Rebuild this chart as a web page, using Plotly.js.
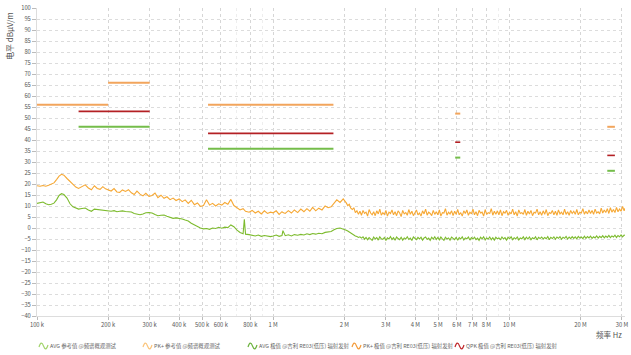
<!DOCTYPE html>
<html><head><meta charset="utf-8">
<script src="https://cdn.plot.ly/plotly-3.0.1.min.js"></script>
<style>html,body{margin:0;padding:0;background:#fff}#chart{width:631px;height:355px}</style>
</head><body><div id="chart"></div>
<script>
// Frequencies in kHz
var freqKHz = [100,103,106,109,112,115,118,121,124,127,130,134,138,142,146,150,155,160,165,170,175,180,185,190,195,200,
206,212,218,224,230,237,244,251,258,265,273,281,289,298,307,316,325,335,345,355,366,377,388,400,412,424,437,450,464,478,492,
507,522,538,554,571,588,606,624,643,662,682,703,724,746,755,764,791,815,840,865,891,918,946,975,
1000,1030,1060,1090,1100,1125,1160,1195,1230,1270,1310,1350,1390,1430,1470,1515,1560,1610,1660,1710,1760,1810,1860,1920,1980,
2040,2070,2100,2132,2164,2196,2229,2263,2297,2331,
2366,2402,2438,2474,2511,2549,2587,2626,2665,2705,
2746,2787,2829,2871,2914,2958,3002,3047,3093,3139,
3186,3234,3283,3332,3382,3433,3484,3537,3590,3644,
3698,3754,3810,3867,3925,3984,4044,4104,4166,4228,
4292,4356,4422,4488,4555,4624,4693,4764,4835,4908,
4981,5056,5132,5209,5287,5366,5447,5529,5611,5696,
5781,5868,5956,6045,6136,6228,6321,6416,6512,6610,
6709,6810,6912,7016,7121,7228,7336,7446,7558,7671,
7786,7903,8022,8142,8264,8388,8514,8642,8771,8903,
9037,9172,9310,9450,9591,9735,9881,10029,10180,10332,
10487,10645,10804,10966,11131,11298,11467,11639,11814,11991,
12171,12354,12539,12727,12918,13112,13308,13508,13711,13916,
14125,14337,14552,14770,14992,15217,15445,15677,15912,16150,
16393,16638,16888,17141,17398,17659,17924,18193,18466,18743,
19024,19309,19599,19893,20191,20494,20802,21114,21430,21752,
22078,22409,22745,23086,23433,23784,24141,24503,24871,25244,
25622,26007,26397,26793,27195,27603,28017,28437,28863,29296,
29736,30182,30635,30900];

var pkMeasured = [19.2,19.0,19.3,19.0,19.4,19.8,20.5,22.0,23.6,24.4,24.0,22.5,21.0,19.8,18.6,18.0,18.9,19.6,18.2,17.4,19.2,18.0,17.6,18.8,17.8,17.2,
16.8,17.9,16.4,16.2,17.3,16.6,17.4,16.0,15.2,16.8,15.4,14.6,15.8,14.4,14.8,15.9,13.8,14.9,13.5,14.2,12.9,13.6,12.5,13.2,12.0,12.8,11.2,12.6,10.6,11.4,9.8,
10.2,12.8,10.4,11.2,10.0,11.0,10.4,11.6,10.8,13.0,10.2,9.0,8.2,8.8,8.0,7.6,7.2,8.0,6.8,7.6,6.4,7.8,6.6,7.2,
6.9,7.8,6.2,7.4,7.0,6.6,7.9,6.8,8.2,7.0,8.6,7.4,8.8,7.6,9.4,7.8,9.0,8.2,10.0,9.2,9.6,11.0,12.8,11.6,13.2,
11.4,10.2,10.8,9.0,8.4,9.2,7.0,7.8,6.2,7.6,
5.8,8.0,6.6,7.2,5.4,8.4,6.8,6.0,7.4,5.6,
7.8,6.4,8.6,5.8,7.0,6.2,8.0,5.4,7.2,6.6,
8.2,6.0,7.4,5.6,7.8,6.8,5.2,8.0,6.4,7.0,
5.8,8.4,6.2,7.6,5.6,7.0,8.2,6.0,6.8,5.4,
7.8,6.4,8.6,5.8,7.2,6.6,5.6,8.0,6.2,7.4,
6.0,8.2,5.4,7.0,6.8,8.8,5.8,7.2,6.4,7.8,
5.6,7.6,6.2,8.4,6.0,7.0,5.4,7.8,6.6,8.2,
5.8,7.2,6.4,8.6,6.0,7.4,5.6,8.0,6.8,7.2,
5.4,8.4,6.2,7.0,6.6,8.8,5.8,7.6,6.2,7.8,
6.0,8.2,5.6,7.4,6.8,8.0,5.8,7.2,6.4,8.6,
6.0,7.4,5.4,8.2,6.6,7.0,6.2,8.4,5.8,7.6,
6.4,8.0,5.6,7.2,6.8,8.6,6.0,7.4,5.8,7.8,
6.2,8.4,5.6,7.0,6.6,8.0,6.0,7.6,5.8,8.2,
6.4,7.2,6.0,8.6,6.2,7.4,5.8,8.0,6.6,7.6,
6.2,8.4,6.0,7.2,6.8,8.8,6.2,7.6,6.4,8.2,
6.6,8.0,6.2,8.6,6.8,7.4,6.4,9.0,6.8,8.2,
7.0,8.8,6.6,9.2,7.2,8.4,7.0,9.4,7.4,8.6,
7.6,9.8,7.8,9.0];

var avgMeasured = [11.2,11.6,11.8,11.0,10.6,10.8,11.3,12.8,14.8,15.6,15.2,13.6,11.0,9.6,9.0,8.6,8.9,9.1,8.2,7.6,8.6,8.4,8.2,8.3,7.9,7.8,
7.6,7.9,7.4,7.6,7.8,7.5,7.4,7.3,6.6,6.2,6.0,6.4,6.9,7.0,6.8,6.1,5.6,5.8,5.9,5.3,4.8,4.4,4.6,4.4,4.1,3.6,3.2,2.2,1.4,1.0,0.0,
-0.4,-0.2,-0.6,0.0,-0.2,0.3,-0.1,0.4,0.2,1.4,0.6,-1.0,-2.0,-2.6,4.0,-2.8,-3.0,-3.4,-3.6,-3.2,-3.8,-3.4,-3.6,-3.9,
-3.6,-3.2,-3.8,-3.4,-1.2,-3.5,-3.1,-3.6,-3.0,-3.3,-2.9,-3.2,-2.6,-3.0,-2.5,-2.8,-2.4,-2.6,-2.0,-1.8,-1.6,-0.8,-0.2,0.0,-0.4,
-1.0,-1.4,-1.9,-2.4,-2.9,-3.2,-3.6,-3.9,-4.3,-4.0,
-4.6,-4.0,-5.1,-4.3,-5.4,-4.4,-4.9,-5.6,-4.1,-5.0,
-4.4,-5.5,-4.0,-4.9,-5.2,-4.3,-5.7,-4.5,-5.0,-3.9,
-5.2,-4.4,-5.6,-4.1,-4.8,-5.3,-4.2,-5.5,-4.5,-5.0,
-4.0,-5.2,-4.6,-5.7,-4.1,-4.8,-5.3,-4.3,-5.0,-4.2,
-5.5,-4.5,-4.1,-5.2,-4.6,-5.6,-4.2,-5.0,-4.0,-5.2,
-4.3,-5.4,-4.1,-4.9,-5.6,-4.2,-5.0,-4.5,-5.5,-4.1,
-4.8,-5.3,-4.2,-5.6,-4.4,-5.0,-4.0,-5.4,-4.5,-4.9,
-4.1,-5.5,-4.4,-5.0,-4.2,-5.3,-4.6,-5.6,-4.2,-4.9,
-4.0,-5.4,-4.5,-5.0,-4.1,-5.3,-4.4,-5.5,-4.2,-4.9,
-4.5,-5.3,-4.1,-5.0,-4.4,-5.5,-4.2,-4.9,-4.0,-5.3,
-4.4,-5.0,-4.1,-5.4,-4.5,-4.9,-4.0,-5.3,-4.2,-5.0,
-4.1,-5.3,-4.4,-4.9,-4.0,-5.4,-4.2,-4.8,-4.1,-5.0,
-4.3,-4.9,-3.9,-5.3,-4.2,-4.8,-4.0,-5.1,-4.1,-4.7,
-3.9,-5.1,-4.2,-4.7,-3.8,-5.0,-4.1,-4.8,-3.9,-4.7,
-4.0,-4.9,-3.8,-4.6,-4.1,-4.8,-3.7,-4.7,-3.9,-4.5,
-3.7,-4.7,-4.0,-4.5,-3.6,-4.6,-3.8,-4.4,-3.5,-4.5,
-3.7,-4.3,-3.4,-4.4,-3.6,-4.1,-3.3,-4.3,-3.4,-4.0,
-3.1,-4.0,-3.2,-3.3];

// Limit lines (kHz, dBuV/m), null = gap
var pkLimitX  = [100,200,null,200,300,null,530,1800,null,5900,6200,null,26000,28000];
var pkLimitY  = [56,56,null,66,66,null,56,56,null,52,52,null,46,46];
var qpkLimitX = [150,300,null,530,1800,null,5900,6200,null,26000,28000];
var qpkLimitY = [53,53,null,43,43,null,39,39,null,33,33];
var avgLimitX = [150,300,null,530,1800,null,5900,6200,null,26000,28000];
var avgLimitY = [46,46,null,36,36,null,32,32,null,26,26];

var seriesNames = ['AVG 参考值 @频谱概观测试','PK+ 参考值 @频谱概观测试','AVG 极值 @吉利 RE03(低压) 辐射发射','PK+ 极值 @吉利 RE03(低压) 辐射发射','QPK 极值 @吉利 RE03(低压) 辐射发射'];

var xTickVals = [100,200,300,400,500,600,800,1000,2000,3000,4000,5000,6000,7000,8000,10000,20000,30000];
var xTickText = ['100 k','200 k','300 k','400 k','500 k','600 k','800 k','1 M','2 M','3 M','4 M','5 M','6 M','7 M','8 M','10 M','20 M','30 M'];
var xMinorVals = [700,900,9000];
var yTickVals = [-40,-35,-30,-25,-20,-15,-10,-5,0,5,10,15,20,25,30,35,40,45,50,55,60,65,70,75,80,85,90,95,100];

var FONT = '"Noto Sans CJK SC","Noto Sans",sans-serif';
var W = 631, H = 355, ML = 37, MR = 6, MT = 8, MB = 39;
var PW = W - ML - MR, PH = H - MT - MB;
function px(x) { return (x - ML) / PW; }
function py(y) { return (H - MB - y) / PH; }

var seriesColors = ['#7dbb2e', '#f6a834', '#74bd4a', '#f2a55c', '#b42024'];
var legendIconColors = ['#a3d46e', '#fbc57c', '#6db33f', '#f39b3a', '#c0282c'];

var traces = [
  {x: freqKHz, y: avgMeasured, name: seriesNames[0], type: 'scatter', mode: 'lines',
   line: {color: seriesColors[0], width: 1.1}},
  {x: freqKHz, y: pkMeasured, name: seriesNames[1], type: 'scatter', mode: 'lines',
   line: {color: seriesColors[1], width: 1.1}},
  {x: avgLimitX, y: avgLimitY, name: seriesNames[2], type: 'scatter', mode: 'lines', connectgaps: false,
   line: {color: seriesColors[2], width: 2}},
  {x: pkLimitX, y: pkLimitY, name: seriesNames[3], type: 'scatter', mode: 'lines', connectgaps: false,
   line: {color: seriesColors[3], width: 2}},
  {x: qpkLimitX, y: qpkLimitY, name: seriesNames[4], type: 'scatter', mode: 'lines', connectgaps: false,
   line: {color: seriesColors[4], width: 1.6}}
];

// custom legend (small wave icon + text)
var legendLeft = [39, 143, 248, 352, 455];
var legendY = 346;
var shapes = [], annotations = [];
seriesNames.forEach(function (nm, i) {
  var x0 = legendLeft[i], yc = legendY;
  var p = 'M ' + px(x0) + ',' + py(yc + 1) +
          ' C ' + px(x0 + 1.5) + ',' + py(yc - 4) + ' ' + px(x0 + 3) + ',' + py(yc - 4) + ' ' + px(x0 + 4.5) + ',' + py(yc) +
          ' C ' + px(x0 + 6) + ',' + py(yc + 4) + ' ' + px(x0 + 7.5) + ',' + py(yc + 4) + ' ' + px(x0 + 9) + ',' + py(yc - 1);
  shapes.push({type: 'path', xref: 'paper', yref: 'paper', path: p,
               line: {color: legendIconColors[i], width: 1.2}});
  annotations.push({text: nm, xref: 'paper', yref: 'paper', x: px(x0 + 9), y: py(yc),
                    xanchor: 'left', yanchor: 'middle', showarrow: false,
                    font: {family: FONT, size: 5.4, color: '#666'}});
});
annotations.push({text: '频率 Hz', xref: 'paper', yref: 'paper', x: px(624), y: py(334),
                  xanchor: 'right', yanchor: 'middle', showarrow: false,
                  font: {family: FONT, size: 7.5, color: '#555'}});
annotations.push({text: '电平 dBμV/m', xref: 'paper', yref: 'paper', x: px(10), y: py(10),
                  xanchor: 'center', yanchor: 'top', textangle: -90, showarrow: false,
                  font: {family: FONT, size: 8, color: '#555'}});

var layout = {
  width: W, height: H,
  margin: {l: ML, r: MR, t: MT, b: MB},
  paper_bgcolor: '#fff', plot_bgcolor: '#fff',
  font: {family: FONT, size: 6, color: '#555'},
  showlegend: false,
  xaxis: {type: 'log', range: [Math.log10(100), Math.log10(30900)],
          tickmode: 'array', tickvals: xTickVals, ticktext: xTickText, tickangle: 0,
          ticks: 'outside', ticklen: 3, tickcolor: '#bbb', tickfont: {family: FONT, size: 5.8, color: '#555'},
          showgrid: true, gridcolor: '#d6d6d6', griddash: 'dot', gridwidth: 1,
          minor: {tickmode: 'array', tickvals: xMinorVals, showgrid: true, gridcolor: '#eeeeee', ticks: ''},
          showline: true, linecolor: '#ddd', linewidth: 1, zeroline: false, fixedrange: true},
  yaxis: {range: [-40, 100], tickmode: 'array', tickvals: yTickVals,
          ticks: 'outside', ticklen: 4, tickcolor: '#bbb', tickfont: {family: FONT, size: 5.8, color: '#555'},
          showgrid: true, gridcolor: '#dcdcdc', griddash: 'dot', gridwidth: 1,
          showline: true, linecolor: '#ddd', linewidth: 1, zeroline: false, fixedrange: true},
  shapes: shapes,
  annotations: annotations
};

Plotly.newPlot('chart', traces, layout, {displayModeBar: false, staticPlot: true});
</script>
</body></html>
